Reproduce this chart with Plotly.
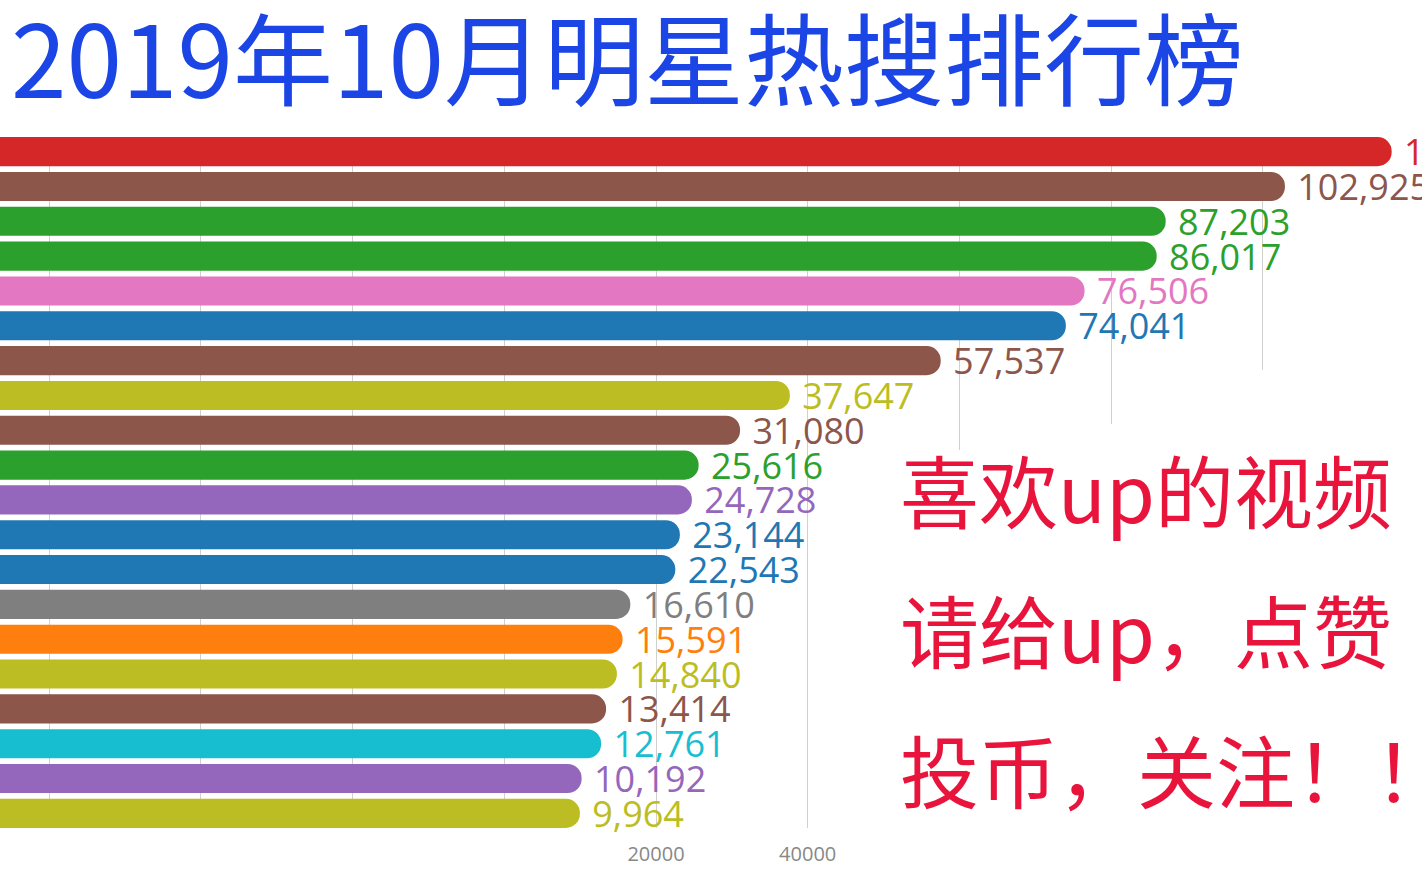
import plotly.graph_objects as go

# ---- data ----
ranks = [f"第{i}名" for i in range(1, 21)]
values = [117000, 102925, 87203, 86017, 76506, 74041, 57537, 37647, 31080, 25616,
          24728, 23144, 22543, 16610, 15591, 14840, 13414, 12761, 10192, 9964]
colors = ["#d62728", "#8c564b", "#2ca02c", "#2ca02c", "#e377c2", "#1f77b4", "#8c564b",
          "#bcbd22", "#8c564b", "#2ca02c", "#9467bd", "#1f77b4", "#1f77b4", "#7f7f7f",
          "#ff7f0e", "#bcbd22", "#8c564b", "#17becf", "#9467bd", "#bcbd22"]
tick_vals = [-60000, -40000, -20000, 0, 20000, 40000, 60000, 80000, 100000]
tick_text = ["", "", "", "", "20000", "40000", "", "", ""]
title_text = "2019年10月明星热搜排行榜"
promo_lines = ["喜欢up的视频", "请给up，点赞", "投币，关注！！"]

BAR_START = -80000  # bars run in from beyond the left edge

W, H = 1422, 889
PLOT_TOP, PLOT_BOTTOM = 137, 828


def py(p):
    return (PLOT_BOTTOM - p) / (PLOT_BOTTOM - PLOT_TOP)


fig = go.Figure()
fig.add_trace(go.Bar(
    y=ranks,
    x=[v - BAR_START for v in values],
    base=BAR_START,
    orientation="h",
    width=0.835,
    marker=dict(color=colors, line=dict(width=0), cornerradius=15),
    text=["\u00a0" + f"{v:,}" for v in values],
    textposition="outside",
    constraintext="none",
    textfont=dict(family="Open Sans", size=36, color=colors),
    cliponaxis=False,
    hoverinfo="skip",
))

# white strips hiding the grid lines behind the message text
covers = [(60000, 450), (80000, 424), (100000, 370)]
shapes = []
for gx, ytop in covers:
    shapes.append(dict(type="rect", xref="x", yref="paper", x0=gx - 800, x1=gx + 800,
                       y0=-0.01, y1=py(ytop), fillcolor="white",
                       line=dict(width=0), layer="above"))

annotations = []
for line, cy in zip(promo_lines, [488, 628, 768]):
    annotations.append(dict(
        text=line, xref="paper", yref="paper", x=898 / W, y=py(cy),
        xanchor="left", yanchor="middle", showarrow=False,
        font=dict(family="Noto Sans CJK SC", size=79, color="#e8143c"),
    ))

fig.update_layout(
    width=W, height=H,
    margin=dict(l=0, r=0, t=PLOT_TOP, b=H - PLOT_BOTTOM),
    paper_bgcolor="white", plot_bgcolor="white",
    showlegend=False,
    title=dict(text=title_text, xref="container", yref="container",
               x=11 / W, y=1 - 63 / H, xanchor="left", yanchor="middle",
               font=dict(family="Noto Sans CJK SC", size=100, color="#1c45e6")),
    xaxis=dict(range=[-66500, 121000], tickmode="array", tickvals=tick_vals,
               ticktext=tick_text, showgrid=True, gridcolor="#d0d0d0", gridwidth=1,
               zeroline=False, showline=False, ticks="",
               tickfont=dict(family="Open Sans", size=20, color="#888888"),
               ticklabelstandoff=12, fixedrange=True),
    yaxis=dict(range=[19.42, -0.42], showticklabels=False, showgrid=False,
               zeroline=False, showline=False, ticks="", fixedrange=True),
    shapes=shapes,
    annotations=annotations,
)

fig.write_html("out.html", config={"displayModeBar": False},
               post_script="document.body.style.margin='0';document.body.style.overflow='hidden';")
